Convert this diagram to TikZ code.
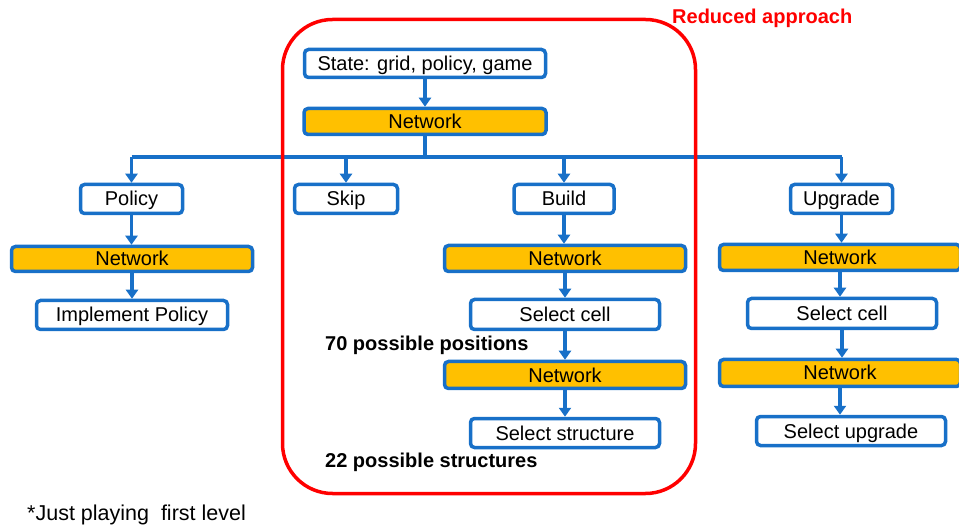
\documentclass[tikz,border=0pt]{standalone}
\usepackage{fontspec}
\setmainfont{Liberation Sans}
\usetikzlibrary{arrows.meta}
\definecolor{myblue}{RGB}{24,112,200}
\definecolor{myorange}{RGB}{255,192,0}
\definecolor{myred}{RGB}{255,0,0}
\begin{document}
\begin{tikzpicture}[x=1pt,y=-1pt,
  wbox/.style={draw=myblue,line width=3.5pt,rounded corners=4pt,fill=white,inner sep=0pt,
    font=\fontsize{20}{22}\selectfont,text=black,text height=14pt,text depth=0pt},
  nbox/.style={wbox,fill=myorange},
  conn/.style={draw=myblue,line width=3.5pt},
  arr/.style={conn,-{Triangle[width=12pt,length=9pt]}},
  note/.style={font=\fontsize{20}{22}\selectfont\bfseries,anchor=west,inner sep=0pt}]
\useasboundingbox (0,0) rectangle (959,529);
% nodes
\node[wbox,minimum width=241pt,minimum height=28pt] (state) at (425,63.5) {State: grid, policy, game};
\node[nbox,minimum width=242pt,minimum height=26pt] (net0) at (425,121.5) {Network};
\node[wbox,minimum width=102pt,minimum height=29pt] (policy) at (131.5,199) {Policy};
\node[wbox,minimum width=103pt,minimum height=29pt] (skip) at (346,199) {Skip};
\node[wbox,minimum width=100pt,minimum height=29pt] (build) at (564,199) {Build};
\node[wbox,minimum width=102pt,minimum height=29pt] (upgrade) at (841.5,199) {Upgrade};
\node[nbox,minimum width=241pt,minimum height=25pt] (netL) at (132,259) {Network};
\node[wbox,minimum width=191pt,minimum height=29pt] (impl) at (132,315) {Implement Policy};
\node[nbox,minimum width=241pt,minimum height=26pt] (netB1) at (565,258.5) {Network};
\node[wbox,minimum width=189pt,minimum height=30pt] (selB) at (565,314.5) {Select cell};
\node[nbox,minimum width=241pt,minimum height=27pt] (netB2) at (565,375) {Network};
\node[wbox,minimum width=189pt,minimum height=29pt] (selS) at (565,433) {Select structure};
\node[nbox,minimum width=241pt,minimum height=26pt] (netU1) at (840,257.5) {Network};
\node[wbox,minimum width=189pt,minimum height=30pt] (selU) at (842,313.5) {Select cell};
\node[nbox,minimum width=241pt,minimum height=27pt] (netU2) at (840,373) {Network};
\node[wbox,minimum width=189pt,minimum height=29pt] (selUp) at (851,431) {Select upgrade};
% bus
\coordinate (bus) at (425,157);
\draw[arr] (state.south) -- (net0.north);
\draw[conn] (net0.south) -- (bus);
\draw[conn] (policy.north |- bus) -- (upgrade.north |- bus);
\draw[arr] (policy.north |- bus) -- (policy.north);
\draw[arr] (skip.north |- bus) -- (skip.north);
\draw[arr] (build.north |- bus) -- (build.north);
\draw[arr] (upgrade.north |- bus) -- (upgrade.north);
% columns
\draw[arr] (policy.south) -- (policy.south |- netL.north);
\draw[arr] (netL.south) -- (netL.south |- impl.north);
\draw[arr] (build.south) -- (build.south |- netB1.north);
\draw[arr] (netB1.south) -- (netB1.south |- selB.north);
\draw[arr] (selB.south) -- (selB.south |- netB2.north);
\draw[arr] (netB2.south) -- (netB2.south |- selS.north);
\draw[arr] (upgrade.south) -- (upgrade.south |- netU1.north);
\draw[arr] (netU1.south) -- (netU1.south |- selU.north);
\draw[arr] (selU.south) -- (selU.south |- netU2.north);
\draw[arr] (netU2.south) -- (netU2.south |- selUp.north);
% labels
\node[note] (pos) at (325,345) {70 possible positions};
\node[note] (str) at (325,462) {22 possible structures};
\node[note,text=myred] (red) at (672,18) {Reduced approach};
\node[anchor=west,inner sep=0pt,font=\fontsize{21.5}{23}\selectfont] (just) at (27,515) {*Just playing~~first level};
% reduced box
\draw[myred,line width=3.5pt,rounded corners=50pt] (282.5,19.5) rectangle (695.5,493.5);
\end{tikzpicture}
\end{document}
